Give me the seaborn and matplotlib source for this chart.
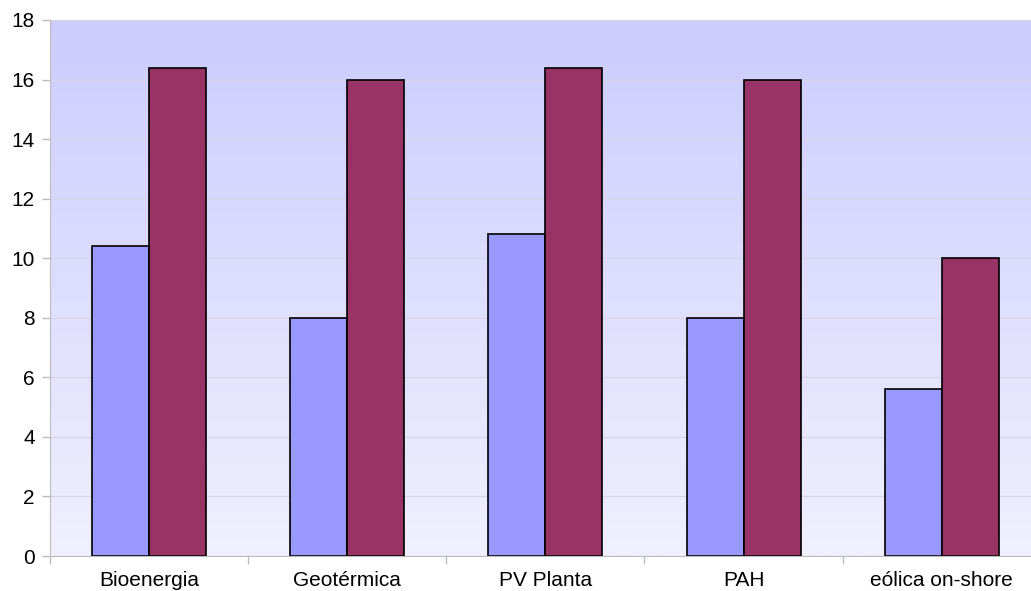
import numpy as np
import pandas as pd
import seaborn as sns
import matplotlib.pyplot as plt
from matplotlib.colors import LinearSegmentedColormap

# Data
categories = ["Bioenergia", "Geotérmica", "PV Planta", "PAH", "eólica on-shore"]
serie_1 = [10.4, 8.0, 10.8, 8.0, 5.6]
serie_2 = [16.4, 16.0, 16.4, 16.0, 10.0]
series_names = ["Serie 1", "Serie 2"]

df = pd.DataFrame({
    "categoria": categories * 2,
    "valor": serie_1 + serie_2,
    "serie": [series_names[0]] * len(categories) + [series_names[1]] * len(categories),
})

sns.set_style("white")
plt.rcParams["font.family"] = ["Liberation Sans", "DejaVu Sans"]

fig = plt.figure(figsize=(10.31, 5.91), dpi=100)
# plot area runs a little past the right edge of the image, as in the reference
ax = fig.add_axes([0.0485, 0.0592, 0.961, 0.907])

# gradient background
grad = LinearSegmentedColormap.from_list("bg", ["#F0F0FE", "#CCCCFF"])
ax.imshow(np.linspace(0, 1, 256).reshape(-1, 1), aspect="auto", cmap=grad,
          extent=[0, 1, 0, 1], transform=ax.transAxes, origin="lower", zorder=0)

sns.barplot(data=df, x="categoria", y="valor", hue="serie",
            palette=["#9999FF", "#993366"], saturation=1,
            edgecolor="black", linewidth=1.2,
            width=0.575, gap=0, ax=ax, zorder=2)

ax.set_ylim(0, 18)
ax.set_xlim(-0.5, 4.5)
ax.set_yticks(range(0, 19, 2))
ax.yaxis.grid(True, color="#D6D6E6", linewidth=1, zorder=1)
ax.set_axisbelow(True)
for s in ["top", "right"]:
    ax.spines[s].set_visible(False)
for s in ["left", "bottom"]:
    ax.spines[s].set_color("#BDBDBD")
ax.tick_params(axis="y", left=True, length=6, width=1, color="#BDBDBD",
               labelsize=15, labelcolor="black", pad=5)
ax.tick_params(axis="x", length=0, labelsize=15, labelcolor="black", pad=11)
# category boundary ticks
ax.set_xticks(np.arange(-0.5, 5, 1), minor=True)
ax.tick_params(axis="x", which="minor", bottom=True, length=6, width=1,
               color="#BDBDBD", direction="out")
ax.set_xlabel("")
ax.set_ylabel("")
ax.legend_.remove()

plt.savefig("out.png", dpi=100)
